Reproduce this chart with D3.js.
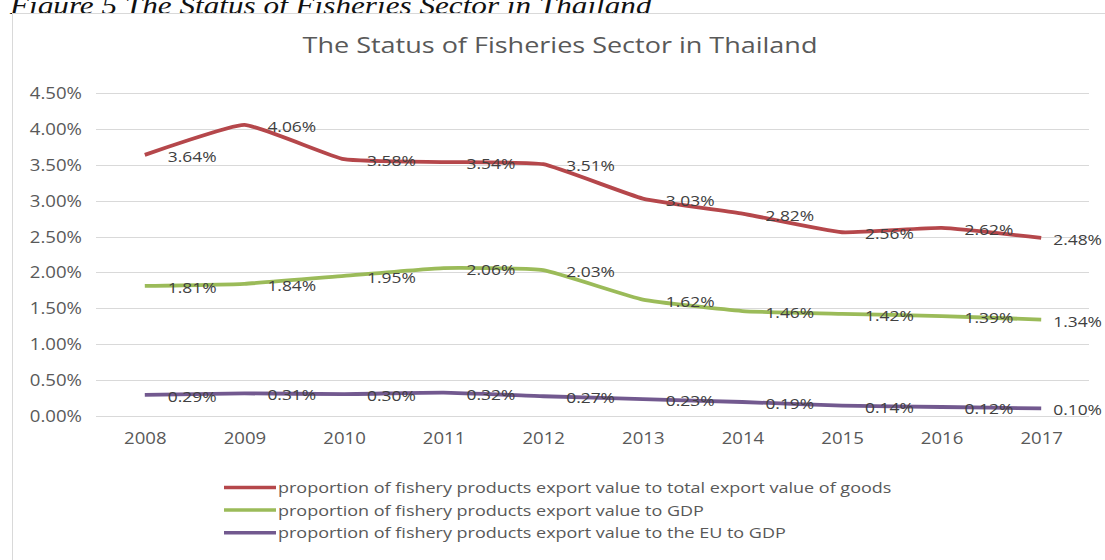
<!DOCTYPE html>
<html>
<head>
<meta charset="utf-8">
<script src="https://cdn.jsdelivr.net/npm/d3@7"></script>
<style>
  body { margin: 0; background: #fff; }
  svg { display: block; }
  text { font-family: "Open Sans", sans-serif; }
</style>
</head>
<body>
<svg id="chart" width="1105" height="560"></svg>
<script>
// values (percent)
var years = ['2008', '2009', '2010', '2011', '2012', '2013', '2014', '2015', '2016', '2017']
var exportShare = [3.64, 4.06, 3.58, 3.54, 3.51, 3.03, 2.82, 2.56, 2.62, 2.48]
var gdpShare = [1.81, 1.84, 1.95, 2.06, 2.03, 1.62, 1.46, 1.42, 1.39, 1.34]
var euGdpShare = [0.29, 0.31, 0.30, 0.32, 0.27, 0.23, 0.19, 0.14, 0.12, 0.10]
var yTicks = [0, 0.5, 1, 1.5, 2, 2.5, 3, 3.5, 4, 4.5]
var seriesNames = [
  'proportion of fishery products export value to total export value of goods',
  'proportion of fishery products export value to GDP',
  'proportion of fishery products export value to the EU to GDP'
]

// the source picture is stretched sideways, so text gets the same stretch
const SX = 1.2

var series = [
  { name: seriesNames[0], values: exportShare, color: '#b5474b' },
  { name: seriesNames[1], values: gdpShare, color: '#9bbb59' },
  { name: seriesNames[2], values: euGdpShare, color: '#72598f' }
]

var svg = d3.select('#chart')

// caption above the chart frame (cut by the top edge)
svg.append('text')
  .attr('transform', `translate(10,14) scale(${SX},1)`)
  .style('font-family', '"Liberation Serif", "Times New Roman", serif')
  .style('font-style', 'italic')
  .style('font-size', '26px')
  .attr('fill', '#111')
  .text('Figure 5 The Status of Fisheries Sector in Thailand')

// chart frame
svg.append('rect')
  .attr('x', 12.5).attr('y', 13.5)
  .attr('width', 1200).attr('height', 700)
  .attr('fill', '#fff')
  .attr('stroke', '#d9d9d9')

svg.append('text')
  .attr('transform', `translate(560,53) scale(${SX},1)`)
  .attr('text-anchor', 'middle')
  .style('font-size', '22.5px')
  .attr('fill', '#595959')
  .text('The Status of Fisheries Sector in Thailand')

var x = d3.scalePoint()
  .domain(years)
  .range([95, 1091])
  .padding(0.5)

var y = d3.scaleLinear()
  .domain([0, 4.5])
  .range([415.6, 93.3])

// gridlines
svg.append('g')
  .selectAll('line')
  .data(yTicks)
  .join('line')
  .attr('x1', 96).attr('x2', 1089)
  .attr('y1', d => Math.round(y(d)) + 0.5)
  .attr('y2', d => Math.round(y(d)) + 0.5)
  .attr('stroke', '#d9d9d9')

var fmt = d3.format('.2f')

var yAxis = svg.append('g')
  .attr('transform', 'translate(82,0)')
  .call(d3.axisLeft(y).tickValues(yTicks).tickSize(0).tickPadding(0)
    .tickFormat(d => fmt(d) + '%'))
yAxis.select('.domain').remove()
yAxis.selectAll('text')
  .attr('dy', null).attr('x', null)
  .attr('transform', `translate(0,5.5) scale(${SX},1)`)
  .style('font-size', '15.5px')
  .attr('fill', '#595959')
  .style('font-family', '"Open Sans", sans-serif')

var xAxis = svg.append('g')
  .attr('transform', 'translate(0,432.5)')
  .call(d3.axisBottom(x).tickSize(0).tickPadding(0))
xAxis.select('.domain').remove()
xAxis.selectAll('text')
  .attr('y', null)
  .attr('transform', `scale(${SX},1)`)
  .style('font-size', '15.5px')
  .attr('fill', '#595959')
  .style('font-family', '"Open Sans", sans-serif')

// light smoothing, like the spreadsheet's smoothed lines
var line = d3.line()
  .x((d, i) => x(years[i]))
  .y(d => y(d))
  .curve(d3.curveCardinal.tension(0.6))

for (let s of series) {
  svg.append('path')
    .datum(s.values)
    .attr('d', line)
    .attr('fill', 'none')
    .attr('stroke', s.color)
    .attr('stroke-width', 3.8)
    .attr('stroke-linejoin', 'round')
}

// data labels to the right of each point
for (let s of series) {
  svg.append('g')
    .selectAll('text')
    .data(s.values)
    .join('text')
    .attr('transform', (d, i) => {
      let dx = i == years.length - 1 ? 12 : 23
      return `translate(${x(years[i]) + dx},${y(d) + 7}) scale(${SX},1)`
    })
    .style('font-size', '14.5px')
    .attr('fill', '#404040')
    .text(d => fmt(d) + '%')
}

// legend
var legend = svg.append('g')
  .selectAll('g')
  .data(series)
  .join('g')
  .attr('transform', (d, i) => `translate(224,${487.5 + i * 22.6})`)

legend.append('line')
  .attr('x1', 0).attr('x2', 52)
  .attr('stroke', d => d.color)
  .attr('stroke-width', 3.5)

legend.append('text')
  .attr('transform', `translate(54,5.5) scale(${SX},1)`)
  .style('font-size', '15px')
  .attr('fill', '#595959')
  .text(d => d.name)
</script>
</body>
</html>
